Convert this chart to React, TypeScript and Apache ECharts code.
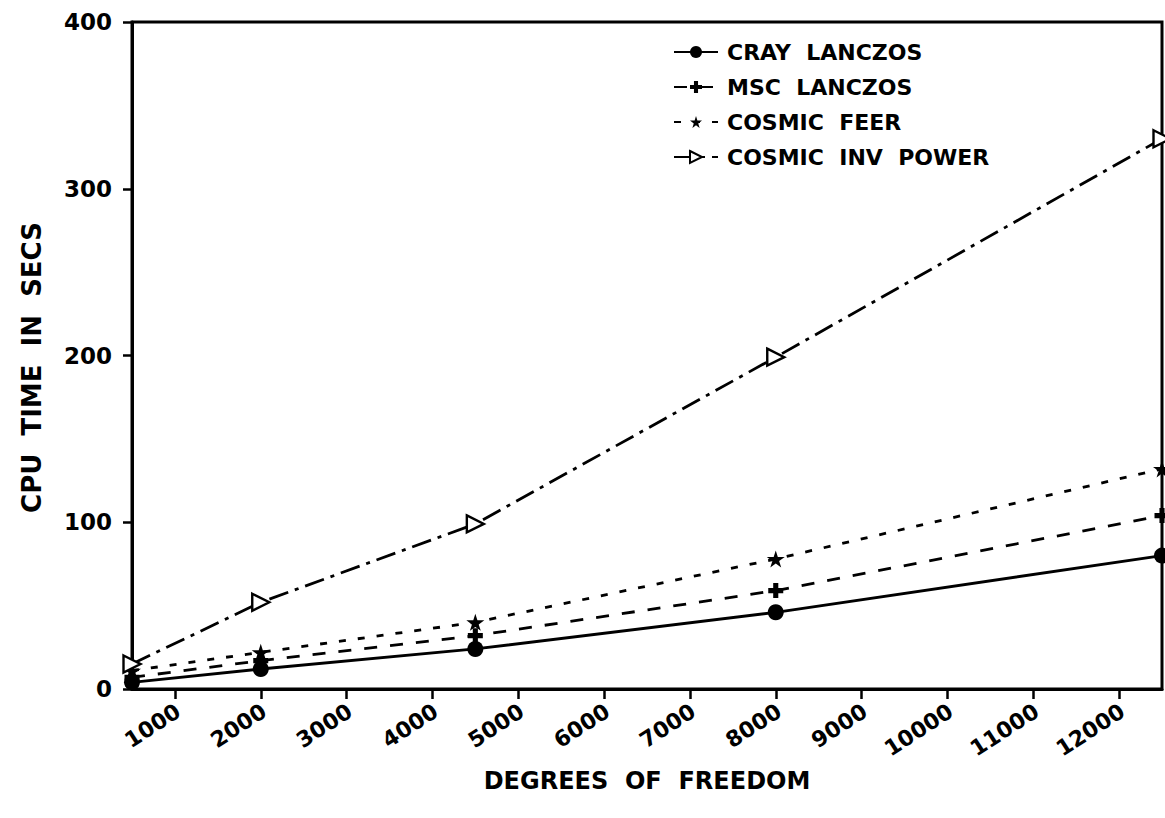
import React, { useEffect, useRef } from "react";
import * as echarts from "echarts";

const degreesOfFreedom = [500, 2000, 4500, 8000, 12500];
const crayLanczos = [4, 12, 24, 46, 80];
const mscLanczos = [7, 17, 32, 59, 104];
const cosmicFeer = [11, 22, 40, 78, 132];
const cosmicInvPower = [15, 52, 99, 199, 330];
const xTickValues = [1000, 2000, 3000, 4000, 5000, 6000, 7000, 8000, 9000, 10000, 11000, 12000];
const xTickLabels = ["1000", "2000", "3000", "4000", "5000", "6000", "7000", "8000", "9000", "10000", "11000", "12000"];
const seriesNames = ["CRAY LANCZOS", "MSC LANCZOS", "COSMIC FEER", "COSMIC INV POWER"];

const FONT = "DejaVu Sans";
const LABEL_SHIFT = 40; // rotated labels sit slightly right of their ticks in the original
const PLUS = "path://M3.3,0H6.7V3.3H10V6.7H6.7V10H3.3V6.7H0V3.3H3.3Z";
const STAR = "path://M50,0L61,35L98,35L68,57L79,91L50,70L21,91L32,57L2,35L39,35Z";
const TRI = "path://M0,0L10,5L0,10Z";

function pairs(ys: number[]) {
  return degreesOfFreedom.map((x, i) => [x, ys[i]]);
}

export default function App() {
  const ref = useRef<HTMLDivElement>(null);
  useEffect(() => {
    if (!ref.current) return;
    const chart = echarts.init(ref.current, undefined, { renderer: "svg" });
    const black = "#000";
    const baseSeries = (name: string, data: number[], type: any, symbol: string, size: any, fill = black, bw = 0) => ({
      name,
      type: "line",
      data: pairs(data),
      symbol,
      symbolSize: size,
      symbolKeepAspect: true,
      showAllSymbol: true,
      clip: false,
      lineStyle: { color: black, width: 2.8, type },
      itemStyle: { color: fill, borderColor: black, borderWidth: bw },
      emphasis: { disabled: true },
      z: 3,
    });
    const labelPositions = xTickValues.map((v) => v + LABEL_SHIFT);
    chart.setOption({
      animation: false,
      backgroundColor: "#fff",
      grid: {
        left: 132,
        right: 3,
        top: 22,
        bottom: 129,
        show: true,
        borderColor: black,
        borderWidth: 3,
        backgroundColor: "transparent",
      },
      legend: {
        orient: "vertical",
        left: 668,
        top: 36,
        itemWidth: 44,
        itemHeight: 15,
        itemGap: 13,
        data: seriesNames,
        formatter: (n: string) => n.replace(/ /g, "  "),
        textStyle: { fontFamily: FONT, fontSize: 22, fontWeight: "bold", color: black, padding: [0, 0, 0, 4] },
        inactiveColor: black,
        selectedMode: false,
      },
      xAxis: {
        type: "value",
        min: 500,
        max: 12500,
        name: "DEGREES  OF  FREEDOM",
        nameLocation: "middle",
        nameGap: 80,
        nameMoveOverlap: false,
        nameTextStyle: { fontFamily: FONT, fontSize: 24, fontWeight: "bold", color: black },
        axisLine: { show: true, lineStyle: { color: black, width: 3 } },
        axisTick: { show: true, customValues: xTickValues, length: 10, lineStyle: { color: black, width: 2.5 } },
        axisLabel: {
          customValues: labelPositions,
          formatter: (v: number) => {
            const i = labelPositions.indexOf(v);
            return i >= 0 ? xTickLabels[i] : "";
          },
          rotate: 33,
          margin: 20,
          fontFamily: FONT,
          fontSize: 22,
          fontWeight: "bold",
          color: black,
        },
        splitLine: { show: false },
      },
      yAxis: {
        type: "value",
        min: 0,
        max: 400,
        interval: 100,
        name: "CPU  TIME  IN  SECS",
        nameLocation: "middle",
        nameGap: 87,
        nameMoveOverlap: false,
        nameTextStyle: { fontFamily: FONT, fontSize: 26, fontWeight: "bold", color: black, padding: [0, 24, 0, 0] },
        axisLine: { show: true, lineStyle: { color: black, width: 3 } },
        axisTick: { show: true, inside: false, length: 9, lineStyle: { color: black, width: 2.5 } },
        axisLabel: { margin: 20, fontFamily: FONT, fontSize: 23, fontWeight: "bold", color: black },
        splitLine: { show: false },
      },
      series: [
        baseSeries(seriesNames[0], crayLanczos, "solid", "circle", 16),
        baseSeries(seriesNames[1], mscLanczos, [13, 13], PLUS, 15),
        baseSeries(seriesNames[2], cosmicFeer, [7, 12], STAR, 18),
        baseSeries(seriesNames[3], cosmicInvPower, [20, 7, 4, 7], TRI, 17, "#fff", 2.4),
      ],
    });
    return () => chart.dispose();
  }, []);
  return (
    <div
      ref={ref}
      style={{ position: "absolute", left: 0, top: 0, width: 1165, height: 818, background: "#fff" }}
    />
  );
}
